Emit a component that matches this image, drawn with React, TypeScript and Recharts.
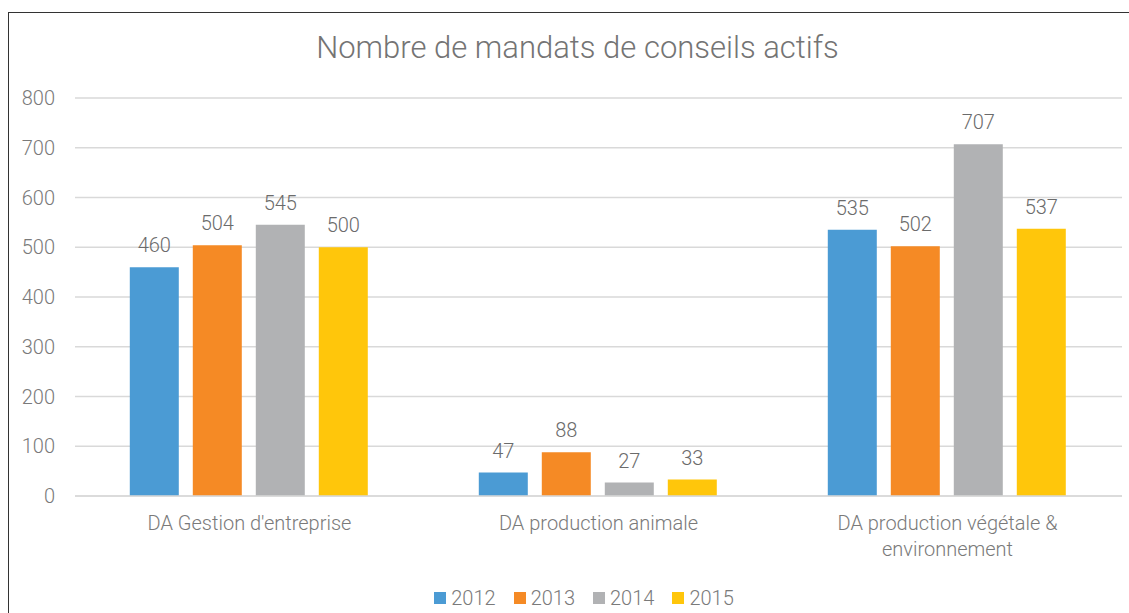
import React from 'react';
import { BarChart, Bar, XAxis, YAxis, CartesianGrid, Legend, LabelList, Text } from 'recharts';

const categories = ['DA Gestion d\'entreprise', 'DA production animale', 'DA production végétale & environnement'];
const years = ['2012', '2013', '2014', '2015'];
const values2012 = [460, 47, 535];
const values2013 = [504, 88, 502];
const values2014 = [545, 27, 707];
const values2015 = [500, 33, 537];
const yTicks = [0, 100, 200, 300, 400, 500, 600, 700, 800];
const colors = ['#4B9BD4', '#F58A25', '#B1B2B4', '#FFC60B'];

const data = categories.map((name, i) => ({
  name,
  y2012: values2012[i],
  y2013: values2013[i],
  y2014: values2014[i],
  y2015: values2015[i],
}));

const FONT = 'Roboto, "Liberation Sans", sans-serif';
const TEXT = '#7a7a7a';

const CategoryTick = ({ x, y, payload }: any) => (
  <Text
    x={x}
    y={y + 12}
    width={230}
    textAnchor="middle"
    verticalAnchor="start"
    fontSize={20}
    fontWeight={300}
    fill={TEXT}
    fontFamily={FONT}
    lineHeight={26}
  >
    {payload.value}
  </Text>
);

const LegendContent = () => (
  <div style={{ display: 'flex', justifyContent: 'center', paddingTop: 30, paddingLeft: 46, fontFamily: FONT }}>
    {years.map((yr, i) => (
      <div key={yr} style={{ display: 'flex', alignItems: 'center', marginRight: i < years.length - 1 ? 18 : 0 }}>
        <div style={{ width: 12, height: 12, background: colors[i], marginRight: 5 }} />
        <span style={{ fontSize: 20, fontWeight: 300, color: TEXT }}>{yr}</span>
      </div>
    ))}
  </div>
);

const App: React.FC = () => {
  return (
    <div style={{ position: 'absolute', top: 0, left: 0, width: 1129, height: 613, background: '#fff', overflow: 'hidden' }}>
      <div
        style={{
          position: 'absolute',
          left: 8,
          top: 12,
          width: 1200,
          height: 700,
          borderLeft: '1.5px solid #333',
          borderTop: '1.5px solid #333',
        }}
      />
      <div
        style={{
          position: 'absolute',
          top: 29,
          left: 0,
          width: 1155,
          textAlign: 'center',
          fontFamily: FONT,
          fontSize: 31,
          fontWeight: 300,
          color: '#747474',
        }}
      >
        Nombre de mandats de conseils actifs
      </div>
      <div style={{ position: 'absolute', top: 0, left: 0 }}>
        <BarChart
          width={1129}
          height={613}
          data={data}
          margin={{ top: 98, right: 7, left: 0, bottom: 0 }}
          barCategoryGap="15.7%"
          barGap={14}
        >
          <CartesianGrid vertical={false} stroke="#d9d9d9" strokeWidth={1.5} />
          <XAxis
            dataKey="name"
            axisLine={{ stroke: '#d9d9d9', strokeWidth: 1.5 }}
            tickLine={false}
            height={60}
            tick={<CategoryTick />}
            interval={0}
          />
          <YAxis
            width={75}
            domain={[0, 800]}
            ticks={yTicks}
            axisLine={false}
            tickLine={false}
            tickSize={0}
            tickMargin={20}
            tick={{ fill: TEXT, fontSize: 20, fontWeight: 300, fontFamily: FONT }}
          />
          <Legend verticalAlign="bottom" height={57} content={<LegendContent />} />
          {years.map((yr, i) => (
            <Bar key={yr} dataKey={`y${yr}`} name={yr} fill={colors[i]} isAnimationActive={false}>
              <LabelList
                dataKey={`y${yr}`}
                position="top"
                offset={15}
                fill="#6b6b6b"
                fontSize={20}
                fontWeight={300}
                fontFamily={FONT}
              />
            </Bar>
          ))}
        </BarChart>
      </div>
    </div>
  );
};

export default App;
